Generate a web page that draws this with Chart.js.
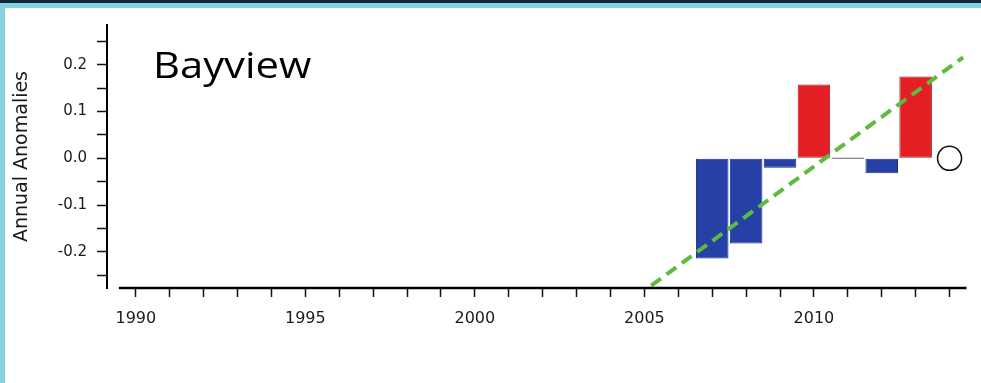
<!DOCTYPE html>
<html>
<head>
<meta charset="utf-8">
<script src="https://cdn.jsdelivr.net/npm/chart.js@4/dist/chart.umd.min.js"></script>
<style>
  html, body { margin: 0; padding: 0; background: #fff; }
  #page { position: relative; width: 981px; height: 383px; overflow: hidden; background: #fff; }
  #topDark { position: absolute; left: 0; top: 0; width: 981px; height: 3px; background: #0d2836; }
  #topBand { position: absolute; left: 0; top: 3px; width: 981px; height: 5px; background: #86d2df; }
  #leftBand { position: absolute; left: 0; top: 3px; width: 5px; height: 380px; background: #86d2df; }
  #plot { position: absolute; left: 0; top: 0; }
  #station {
    position: absolute; left: 153px; top: 47px;
    font-family: "Open Sans", sans-serif; font-size: 36px; line-height: 36px;
    color: #000; transform: scaleX(1.16); transform-origin: left top;
  }
</style>
</head>
<body>
<div id="page">
  <div id="topDark"></div>
  <div id="topBand"></div>
  <div id="leftBand"></div>
  <canvas id="plot" width="981" height="383"></canvas>
  <div id="station">Bayview</div>
</div>
<script>
// annual anomalies per year
const years = [2007, 2008, 2009, 2010, 2011, 2012, 2013];
const anomalies = [-0.214, -0.182, -0.020, 0.158, 0.0, -0.032, 0.175];

// fitted trend (end points)
const trendYears = [2005.2, 2014.4];
const trendValues = [-0.272, 0.216];

// open marker for the current year
const markYear = 2014;
const markValue = 0.0;

// labelled ticks
const xLabelYears = [1990, 1995, 2000, 2005, 2010];
const yLabelValues = [-0.2, -0.1, 0.0, 0.1, 0.2];

const barData = years.map((y, i) => ({ x: y, y: anomalies[i] }));
const trendData = trendYears.map((y, i) => ({ x: y, y: trendValues[i] }));

function barFill(ctx) {
  const v = ctx.raw ? ctx.raw.y : 0;
  if (v > 0) return "#e31f24";
  if (v < 0) return "#2541a8";
  return "#666";
}
function barEdge(ctx) {
  const v = ctx.raw ? ctx.raw.y : 0;
  if (v > 0) return "#a3171a";
  if (v < 0) return "#1a2e86";
  return "#666";
}

// x axis line drawn only across the year range, leaving a gap at the y axis
const xBaseline = {
  id: "xBaseline",
  afterDraw(chart) {
    const xs = chart.scales.x;
    const ctx = chart.ctx;
    const y = chart.chartArea.bottom;
    ctx.save();
    ctx.strokeStyle = "#000";
    ctx.lineWidth = 2.5;
    ctx.beginPath();
    ctx.moveTo(xs.getPixelForValue(1989.5), y);
    ctx.lineTo(xs.getPixelForValue(2014.5), y);
    ctx.stroke();
    ctx.restore();
  }
};

new Chart(document.getElementById("plot"), {
  type: "bar",
  data: {
    datasets: [
      {
        type: "line",
        data: trendData,
        borderColor: "#5dbb3f",
        borderWidth: 4,
        borderDash: [12, 7],
        pointRadius: 0,
        order: 0
      },
      {
        type: "line",
        data: [{ x: markYear, y: markValue }],
        showLine: false,
        pointRadius: 12,
        pointBackgroundColor: "#fff",
        pointBorderColor: "#111",
        pointBorderWidth: 1.5,
        clip: false,
        order: 0
      },
      {
        type: "bar",
        data: barData,
        backgroundColor: barFill,
        borderColor: barEdge,
        borderWidth: ctx => (ctx.raw && ctx.raw.y === 0 ? 0 : 1),
        borderSkipped: false,
        minBarLength: 1,
        barPercentage: 0.96,
        categoryPercentage: 1,
        order: 1
      }
    ]
  },
  options: {
    responsive: false,
    animation: false,
    devicePixelRatio: 1,
    layout: { padding: { left: 0, right: 14.5, top: 25, bottom: 55 } },
    plugins: {
      legend: { display: false },
      tooltip: { enabled: false }
    },
    scales: {
      x: {
        type: "linear",
        offset: false,
        min: 1989.15,
        max: 2014.5,
        afterFit: s => { s.height = 40; },
        border: { display: false },
        grid: {
          offset: false,
          drawOnChartArea: false,
          tickLength: 9,
          tickColor: "#111",
          tickWidth: 1.5
        },
        ticks: {
          stepSize: 1,
          includeBounds: false,
          autoSkip: false,
          maxRotation: 0,
          padding: 12,
          color: "#1a1a1a",
          font: { family: "DejaVu Sans", size: 16 },
          callback: v => (xLabelYears.includes(Math.round(v)) && Math.abs(v - Math.round(v)) < 1e-6 ? String(Math.round(v)) : "")
        }
      },
      y: {
        type: "linear",
        min: -0.277,
        max: 0.285,
        afterFit: s => { s.width = 107; },
        border: { display: true, color: "#000", width: 2 },
        grid: {
          drawOnChartArea: false,
          tickLength: 10,
          tickColor: "#111",
          tickWidth: 1.5
        },
        ticks: {
          stepSize: 0.05,
          includeBounds: false,
          autoSkip: false,
          padding: 10,
          color: "#1a1a1a",
          font: { family: "DejaVu Sans", size: 15 },
          callback: v => {
            const hit = yLabelValues.find(t => Math.abs(t - v) < 1e-6);
            return hit === undefined ? "" : hit.toFixed(1);
          }
        },
        title: {
          display: true,
          text: "Annual Anomalies",
          color: "#1a1a1a",
          font: { family: "DejaVu Sans", size: 19 },
          padding: { top: 11, bottom: 0 }
        }
      }
    }
  },
  plugins: [xBaseline]
});
</script>
</body>
</html>
